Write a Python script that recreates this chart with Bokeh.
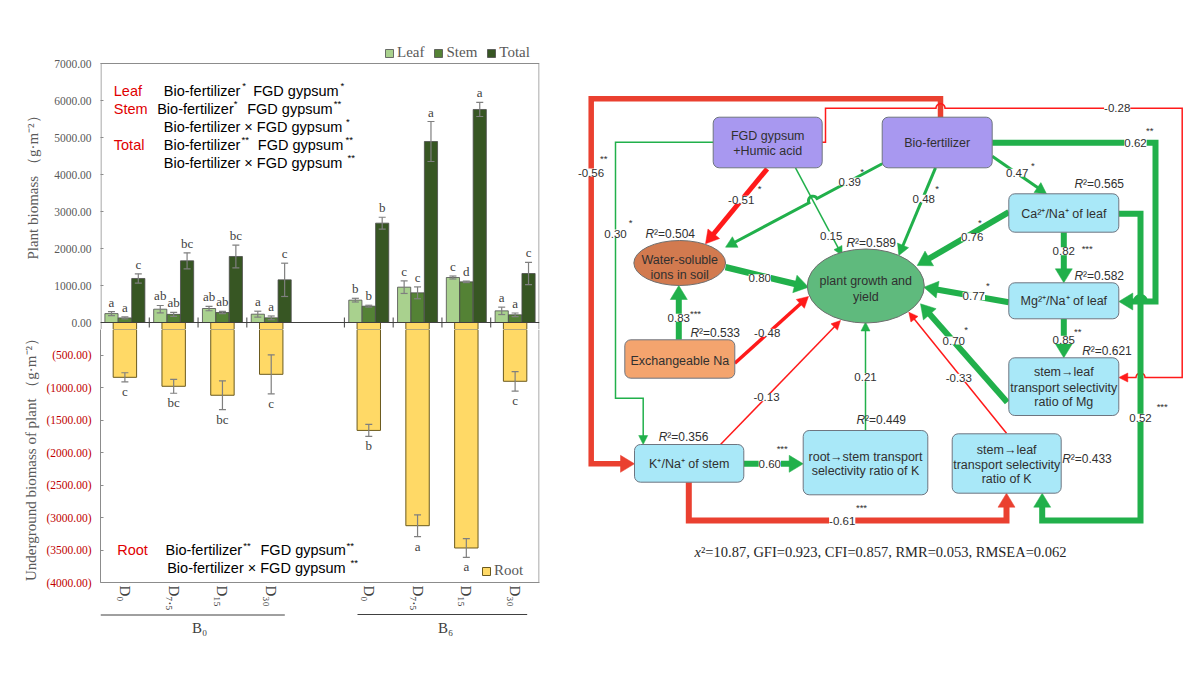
import math
from bokeh.plotting import figure
from bokeh.layouts import row, column
from bokeh.models import (Range1d, FixedTicker, NumeralTickFormatter, Legend, LegendItem,
                          Label, LabelSet, ColumnDataSource, Whisker, TeeHead, Span)
from bokeh.embed import file_html
from bokeh.resources import INLINE
from bokeh.core.properties import value

# ---------------- bar-chart data ----------------
groups = ["B₀", "B₆"]
doses = ["D₀", "D₇.₅", "D₁₅", "D₃₀"]
leaf = [240, 360, 378, 225, 604, 955, 1216, 315]
leaf_err = [55, 100, 60, 80, 50, 170, 40, 100]
stem = [125, 220, 270, 126, 441, 802, 1099, 207]
stem_err = [25, 55, 30, 50, 25, 160, 20, 50]
total = [1190, 1667, 1784, 1153, 2685, 4892, 5757, 1324]
total_err = [125, 215, 306, 450, 160, 540, 190, 300]
root = [843, 981, 1119, 797, 1660, 3126, 3469, 904]
root_err = [70, 107, 222, 300, 92, 168, 143, 150]
leaf_sig = ["a", "ab", "ab", "a", "b", "c", "c", "a"]
stem_sig = ["a", "ab", "ab", "a", "b", "c", "d", "a"]
total_sig = ["c", "bc", "bc", "c", "b", "a", "a", "c"]
root_sig = ["c", "bc", "bc", "c", "b", "a", "a", "c"]
upper_ticks = [0, 1000, 2000, 3000, 4000, 5000, 6000, 7000]
lower_ticks = [500, 1000, 1500, 2000, 2500, 3000, 3500, 4000]

# ---------------- path-diagram data ----------------
coef_labels = ["-0.56", "-0.28", "0.30", "-0.51", "0.15", "0.39", "0.48", "0.47", "0.62",
               "0.82", "0.76", "0.77", "0.85", "0.70", "-0.33", "0.52", "-0.61", "0.60",
               "-0.13", "0.21", "-0.48", "0.83", "0.80"]
coef_stars = ["**", "*", "*", "*", "*", "*", "**", "***", "*", "*", "**", "*", "***",
              "***", "***", "***"]
r2_values = ["0.504", "0.589", "0.565", "0.582", "0.621", "0.533", "0.356", "0.449", "0.433"]
fit_text = "²=10.87, GFI=0.923, CFI=0.857, RMR=0.053, RMSEA=0.062"

LEAF_C, STEM_C, TOTAL_C, ROOT_C = "#a9d18e", "#548235", "#375623", "#ffd966"
GRAY_T = "#595959"
FRAME_C = "#8c8c8c"

# ---------------- category layout ----------------
centers = [g * 5 + k + 0.5 for g in range(len(groups)) for k in range(len(doses))]
bounds = [g * 5 + k for g in range(len(groups)) for k in range(1 if g == 0 else 0, 4)]
OFF, BW = 0.275, 0.27

FL, FR, FT, FM, FB = 100, 539, 63, 322, 583
UPX = 7000.0 / (FM - FT)     # data units per pixel, upper
LPX = 4000.0 / (FB - FM)     # data units per pixel, lower
XPX = 9.0 / (FR - FL)
OVER = 7                      # px the upper frame reaches below zero
HEAD = 25                     # px the upper frame reaches above 7000 (legend room)

def tx(px):
    return (px - FL) * XPX
def ty_up(py):
    return (FM - py) * UPX
def ty_lo(py):
    return -(py - FM) * LPX

# ---------------- upper figure ----------------
top = figure(width=560, height=FM + OVER, x_range=Range1d(0, 9),
             y_range=Range1d(-OVER * UPX, 7000 + HEAD * UPX),
             x_axis_location=None, toolbar_location=None, output_backend="svg",
             min_border_left=FL, min_border_right=21, min_border_top=FT - HEAD,
             min_border_bottom=0)
top.grid.grid_line_color = None
top.outline_line_color = None

def series_src(vals, errs, off, sig):
    xs = [c + off for c in centers]
    return ColumnDataSource(dict(x=xs, v=vals, u=[a + b for a, b in zip(vals, errs)],
                                 l=[a - b for a, b in zip(vals, errs)], t=sig))

renders = []
for vals, errs, off, sig, col in [(leaf, leaf_err, -OFF, leaf_sig, LEAF_C),
                                  (stem, stem_err, 0.0, stem_sig, STEM_C),
                                  (total, total_err, OFF, total_sig, TOTAL_C)]:
    src = series_src(vals, errs, off, sig)
    r = top.vbar(x="x", top="v", width=BW, source=src, fill_color=col,
                 line_color="#4d4d4d", line_width=0.8)
    renders.append(r)
    top.add_layout(Whisker(source=src, base="x", upper="u", lower="l", line_color="#7f7f7f",
                           line_width=1.2, level="overlay",
                           upper_head=TeeHead(size=7, line_color="#7f7f7f", line_width=1.2),
                           lower_head=TeeHead(size=7, line_color="#7f7f7f", line_width=1.2)))
    top.text(x="x", y="u", text="t", source=src, text_font=value("Liberation Serif"),
             text_font_size="13px", text_color="#404040", text_align="center",
             text_baseline="bottom", y_offset=-2)

# tops of the root bars (just below the zero line)
top.vbar(x=centers, top=0, bottom=[-v for v in root], width=0.48, fill_color=ROOT_C,
         line_color="#6b5a1e", line_width=1)

# frame borders of the upper panel
ylo = -OVER * UPX - 10 * UPX
top.segment(x0=[0.5 * XPX, 9 - 0.5 * XPX, 0], y0=[ylo, ylo, 7000],
            x1=[0.5 * XPX, 9 - 0.5 * XPX, 9], y1=[7000, 7000, 7000],
            line_color=FRAME_C, line_width=1)
top.add_layout(Span(location=0, dimension="width", line_color="#404040", line_width=1.2))
top.segment(x0=bounds, y0=[-5 * UPX] * len(bounds), x1=bounds, y1=[5 * UPX] * len(bounds),
            line_color="#404040", line_width=1)

ya = top.yaxis[0]
ya.ticker = FixedTicker(ticks=upper_ticks)
ya.formatter = NumeralTickFormatter(format="0.00")
ya.major_label_text_font = "Liberation Serif"
ya.major_label_text_font_size = "11.5px"
ya.major_label_text_color = GRAY_T
ya.major_tick_out = 0
ya.major_tick_in = 3
ya.minor_tick_out = 0
ya.minor_tick_in = 0
ya.major_label_standoff = 9
ya.axis_line_color = None
ya.major_tick_line_color = FRAME_C
ya.axis_label = "Plant biomass （g·m⁻²）"
ya.axis_label_text_font = "Liberation Serif"
ya.axis_label_text_font_style = "normal"
ya.axis_label_text_font_size = "15px"
ya.axis_label_text_color = GRAY_T
ya.axis_label_standoff = 10

leg = Legend(items=[LegendItem(label="Leaf", renderers=[renders[0]]),
                    LegendItem(label="Stem", renderers=[renders[1]]),
                    LegendItem(label="Total", renderers=[renders[2]])],
             orientation="horizontal", location=(284, 268), padding=0, margin=0,
             spacing=9, label_standoff=3, glyph_width=10, glyph_height=10, label_height=16,
             label_text_font="Liberation Serif", label_text_font_size="15px",
             label_text_color=GRAY_T, background_fill_alpha=0, border_line_color=None)
top.add_layout(leg, "center")

def add_lbl(fig, text, px, py, conv, color="black", size="14.5px", font="Liberation Sans",
            align="left", baseline="middle"):
    fig.add_layout(Label(x=tx(px), y=conv(py), text=text, text_color=color,
                         text_font_size=size, text_font=font, text_align=align,
                         text_baseline=baseline))

RED_T = "#e00000"
STAR = "9.5px"
upper_notes = [
    ("Leaf", 113.3, 90, RED_T, "14.5px"), ("Bio-fertilizer", 163.3, 90, "black", "14.5px"),
    ("*", 241.7, 85, "black", STAR), ("FGD gypsum", 252.7, 90, "black", "14.5px"),
    ("*", 340.0, 85, "black", STAR),
    ("Stem", 113.3, 108, RED_T, "14.5px"), ("Bio-fertilizer", 156.7, 108, "black", "14.5px"),
    ("*", 233.3, 103, "black", STAR), ("FGD gypsum", 246.7, 108, "black", "14.5px"),
    ("**", 333.3, 103, "black", STAR),
    ("Bio-fertilizer × FGD gypsum", 163.3, 126, "black", "14.5px"),
    ("*", 345.5, 121, "black", STAR),
    ("Total", 113.3, 144, RED_T, "14.5px"), ("Bio-fertilizer", 163.3, 144, "black", "14.5px"),
    ("**", 241.0, 139, "black", STAR), ("FGD gypsum", 257.3, 144, "black", "14.5px"),
    ("**", 345.0, 139, "black", STAR),
    ("Bio-fertilizer × FGD gypsum", 163.3, 162, "black", "14.5px"),
    ("**", 347.0, 157, "black", STAR),
]
for t, px, py, c, s in upper_notes:
    add_lbl(top, t, px, py, ty_up, color=c, size=s)

# ---------------- lower figure ----------------
LOW_BOTTOM = 30
bot = figure(width=560, height=(FB - FM - OVER) + LOW_BOTTOM, x_range=top.x_range,
             y_range=Range1d(-4000, -OVER * LPX),
             toolbar_location=None, output_backend="svg",
             min_border_left=FL, min_border_right=21, min_border_top=0,
             min_border_bottom=LOW_BOTTOM)
bot.grid.grid_line_color = None
bot.outline_line_color = None
bot.add_layout(Span(location=9 - 0.5 * XPX, dimension="height", line_color=FRAME_C, line_width=1))

rsrc = ColumnDataSource(dict(x=centers, v=[-a for a in root],
                             u=[-(a - b) for a, b in zip(root, root_err)],
                             l=[-(a + b) for a, b in zip(root, root_err)], t=root_sig))
rr = bot.vbar(x="x", top=0, bottom="v", width=0.48, source=rsrc, fill_color=ROOT_C,
              line_color="#6b5a1e", line_width=1)
bot.add_layout(Whisker(source=rsrc, base="x", upper="u", lower="l", line_color="#7f7f7f",
                       line_width=1.2, level="overlay",
                       upper_head=TeeHead(size=7, line_color="#7f7f7f", line_width=1.2),
                       lower_head=TeeHead(size=7, line_color="#7f7f7f", line_width=1.2)))
bot.text(x="x", y="l", text="t", source=rsrc, text_font=value("Liberation Serif"),
         text_font_size="13px", text_color="#404040", text_align="center",
         text_baseline="top", y_offset=2)

yb = bot.yaxis[0]
yb.ticker = FixedTicker(ticks=[-v for v in lower_ticks])
yb.major_label_overrides = {-v: "({:.2f})".format(v) for v in lower_ticks}
yb.major_label_text_font = "Liberation Serif"
yb.major_label_text_font_size = "11.5px"
yb.major_label_text_color = "#c00000"
yb.major_tick_out = 0
yb.major_tick_in = 3
yb.minor_tick_out = 0
yb.minor_tick_in = 0
yb.major_label_standoff = 9
yb.axis_line_color = FRAME_C
yb.major_tick_line_color = FRAME_C
yb.axis_label = "Underground biomass of plant （g·m⁻²）"
yb.axis_label_text_font = "Liberation Serif"
yb.axis_label_text_font_style = "normal"
yb.axis_label_text_font_size = "15px"
yb.axis_label_text_color = GRAY_T
yb.axis_label_standoff = 4

xb = bot.xaxis[0]
xb.ticker = FixedTicker(ticks=centers)
xb.major_label_overrides = {c: doses[i % len(doses)] for i, c in enumerate(centers)}
xb.major_label_orientation = "vertical"
xb.major_label_text_font = "Liberation Serif"
xb.major_label_text_font_size = "15px"
xb.major_label_text_color = "#404040"
xb.major_tick_out = 0
xb.major_tick_in = 0
xb.minor_tick_out = 0
xb.minor_tick_in = 0
xb.major_label_standoff = 3
xb.axis_line_color = FRAME_C

leg2 = Legend(items=[LegendItem(label="Root", renderers=[rr])], location=(381, 3),
              padding=0, margin=0, label_standoff=3, glyph_width=10, glyph_height=10,
              label_height=16, label_text_font="Liberation Serif", label_text_font_size="15px",
              label_text_color=GRAY_T, background_fill_alpha=0, border_line_color=None)
bot.add_layout(leg2, "center")

lower_notes = [
    ("Root", 116.7, 550.7, RED_T, "14.5px"), ("Bio-fertilizer", 165.0, 550.7, "black", "14.5px"),
    ("**", 242.7, 545.7, "black", STAR), ("FGD gypsum", 260.0, 550.7, "black", "14.5px"),
    ("**", 346.0, 545.7, "black", STAR),
    ("Bio-fertilizer × FGD gypsum", 166.7, 568.3, "black", "14.5px"),
    ("**", 350.0, 563.3, "black", STAR),
]
for t, px, py, c, s in lower_notes:
    add_lbl(bot, t, px, py, ty_lo, color=c, size=s)

# ---------------- footer with the group lines ----------------
FOOT_TOP = FB + LOW_BOTTOM
foot = figure(width=560, height=675 - FOOT_TOP, x_range=top.x_range,
              y_range=Range1d(675, FOOT_TOP), x_axis_location=None, y_axis_location=None,
              toolbar_location=None, output_backend="svg", min_border_left=FL,
              min_border_right=21, min_border_top=0, min_border_bottom=0,
              outline_line_color=None)
foot.grid.grid_line_color = None
gl = [(100, 284.3, 614.5, 199), (357, 526.7, 614, 445)]
foot.segment(x0=[tx(a[0]) for a in gl], y0=[a[2] for a in gl], x1=[tx(a[1]) for a in gl],
             y1=[a[2] for a in gl], line_color="#404040", line_width=1)
foot.text(x=[tx(a[3]) for a in gl], y=[627 for a in gl], text=groups,
          text_font=value("Liberation Serif"), text_font_size="15px", text_color="#404040",
          text_align="center", text_baseline="middle")

# ---------------- path diagram ----------------
d = figure(width=640, height=675, x_range=Range1d(560, 1200), y_range=Range1d(675, 0),
           x_axis_location=None, y_axis_location=None, toolbar_location=None,
           output_backend="svg", min_border=0, outline_line_color=None)
d.grid.grid_line_color = None

GREEN = "#21b04b"
RED = "#ff1a1a"
RED2 = "#ea4030"
PURPLE = "#a898f0"
CYAN = "#a9e8f8"
ORANGE = "#f4a46e"

def seg_intersect(a, b, c, e):
    x1, y1 = a; x2, y2 = b; x3, y3 = c; x4, y4 = e
    den = (x1 - x2) * (y3 - y4) - (y1 - y2) * (x3 - x4)
    t = ((x1 - x3) * (y3 - y4) - (y1 - y3) * (x3 - x4)) / den
    return (x1 + t * (x2 - x1), y1 + t * (y2 - y1))

def expand(path, r=4.5):
    out = []
    for i, pt in enumerate(path):
        if pt[0] == "hop":
            prev = next(path[j] for j in range(i - 1, -1, -1) if path[j][0] != "hop")
            nxt = next(path[j] for j in range(i + 1, len(path)) if path[j][0] != "hop")
            dx, dy = nxt[0] - prev[0], nxt[1] - prev[1]
            L = math.hypot(dx, dy)
            ux, uy = dx / L, dy / L
            nx, ny = uy, -ux
            if ny > 0 or (abs(ny) < 1e-9 and nx < 0):
                nx, ny = -nx, -ny
            cx, cy = pt[1], pt[2]
            for k in range(13):
                th = math.pi * k / 12
                out.append((cx - r * math.cos(th) * ux + r * math.sin(th) * nx,
                            cy - r * math.cos(th) * uy + r * math.sin(th) * ny))
        else:
            out.append(pt)
    return out

def draw_arrow(path, color, w, hl, hw):
    pts = expand(path)
    tip, prev = pts[-1], pts[-2]
    dx, dy = tip[0] - prev[0], tip[1] - prev[1]
    L = math.hypot(dx, dy)
    ux, uy = dx / L, dy / L
    bx, by = tip[0] - ux * hl, tip[1] - uy * hl
    lp = pts[:-1] + [(bx + ux * 1.0, by + uy * 1.0)]
    d.line([p[0] for p in lp], [p[1] for p in lp], line_width=w, line_color=color,
           line_join="miter", line_cap="butt")
    nx, ny = -uy, ux
    d.patch([tip[0], bx + nx * hw / 2, bx - nx * hw / 2],
            [tip[1], by + ny * hw / 2, by - ny * hw / 2],
            fill_color=color, line_color=color, line_width=0.5)

hop39 = seg_intersect((881.7, 163.3), (725, 246.7), (795, 167.3), (841.7, 255))
arrows = [
    ([(940, 116.7), (940, 98.3), (590.7, 98.3), (590.7, 463.3), (634, 463.3)], RED2, 5.5, 14, 17),
    ([(821.7, 141.7), (825, 141.7), (825, 107.7), ("hop", 940, 107.7), (1181.7, 107.7),
      (1181.7, 377), ("hop", 1140, 377), (1118.3, 377)], RED, 1.5, 9, 9),
    ([(712.7, 141.7), (615, 141.7), (615, 397.7), (642.7, 397.7), (642.7, 444)], GREEN, 1.5, 9, 9),
    ([(766.7, 168.3), (705, 243.3)], RED, 5, 13, 15),
    ([(795, 167.3), (841.7, 255)], GREEN, 1.5, 9, 9),
    ([(881.7, 163.3), ("hop", hop39[0], hop39[1]), (725, 246.7)], GREEN, 3, 11, 12),
    ([(935, 167.3), (898.3, 255)], GREEN, 3, 11, 12),
    ([(991.7, 155.7), (1046, 193.3)], GREEN, 3, 11, 12),
    ([(991.7, 142.3), (1155, 142.3), (1155, 301), ("hop", 1140, 301), (1118.3, 301)], GREEN, 6, 14, 17),
    ([(1063.3, 231.7), (1063.3, 282.3)], GREEN, 6, 14, 17),
    ([(1008.3, 211.7), (916.7, 265)], GREEN, 6, 14, 17),
    ([(1008.3, 301.7), (923.3, 286.7)], GREEN, 6, 14, 17),
    ([(1063.3, 318.3), (1063.3, 357.3)], GREEN, 6, 14, 17),
    ([(1006.7, 401.7), (920, 303.3)], GREEN, 6, 14, 17),
    ([(1006, 432.7), (908.3, 311.7)], RED, 1.5, 9, 9),
    ([(1118.3, 213.3), (1140, 213.3), (1140, 520), (1041.7, 520), (1041.7, 492.7)], GREEN, 6, 14, 17),
    ([(688.3, 481.7), (688.3, 520), (1006, 520), (1006, 492.7)], RED2, 6, 14, 17),
    ([(743.3, 463.3), (802.7, 463.3)], GREEN, 6, 14, 17),
    ([(720, 444), (840, 320)], RED, 1.5, 9, 9),
    ([(865, 430), (865, 321.5)], GREEN, 1.5, 9, 9),
    ([(734.3, 362.7), (808, 296)], RED, 3.5, 11, 12),
    ([(678.3, 339.3), (678.3, 285)], GREEN, 6, 14, 17),
    ([(725, 266.7), (808, 286.7)], GREEN, 6.5, 14, 18),
]
for path, col, w, hl, hw in arrows:
    draw_arrow(path, col, w, hl, hw)

boxes = [
    (712.7, 116.7, 821.7, 167.3, PURPLE), (881.7, 116.7, 991.7, 167.3, PURPLE),
    (1008.3, 193.3, 1118.3, 231.7, CYAN), (1008.3, 282.3, 1118.3, 318.3, CYAN),
    (1008.3, 357.3, 1118.3, 415.0, CYAN), (951.7, 433.3, 1060.7, 492.7, CYAN),
    (802.7, 430.0, 927.3, 494.3, CYAN), (634.0, 444.0, 743.3, 481.7, CYAN),
    (624.3, 339.3, 734.3, 377.7, ORANGE),
]
bsrc = ColumnDataSource(dict(l=[b[0] for b in boxes], t=[b[1] for b in boxes],
                             r=[b[2] for b in boxes], b=[b[3] for b in boxes],
                             c=[b[4] for b in boxes]))
try:
    d.quad(left="l", right="r", top="t", bottom="b", fill_color="c", line_color="#6e7580",
           line_width=1, source=bsrc, border_radius=6)
except Exception:
    d.quad(left="l", right="r", top="t", bottom="b", fill_color="c", line_color="#6e7580",
           line_width=1, source=bsrc)
d.ellipse(x=[679.2], y=[262.5], width=[91.7], height=[45], fill_color="#d27a4f",
          line_color="#6e6e6e", line_width=1)
d.ellipse(x=[865.3], y=[285.5], width=[117], height=[74], fill_color="#5fba7d",
          line_color="#6e6e6e", line_width=1)

node_text = [
    ("FGD gypsum", 767.2, 135), ("+Humic acid", 767.2, 150.5),
    ("Bio-fertilizer", 936.7, 142.3),
    ("Ca²⁺/Na⁺ of leaf", 1063.3, 213.3), ("Mg²⁺/Na⁺ of leaf", 1063.3, 300.3),
    ("stem→leaf", 1063.3, 371.7), ("transport selectivity", 1063.3, 387), ("ratio of Mg", 1063.3, 401.7),
    ("stem→leaf", 1006.2, 449), ("transport selectivity", 1006.2, 464), ("ratio of K", 1006.2, 478.3),
    ("root→stem transport", 865, 456), ("selectivity ratio of K", 865, 470.7),
    ("K⁺/Na⁺ of stem", 688.7, 463.3), ("Exchangeable Na", 679.3, 360),
    ("Water-soluble", 679.2, 259), ("ions in soil", 679.2, 274),
    ("plant growth and", 865.3, 280.7), ("yield", 865.3, 296.7),
]
d.text(x=[n[1] for n in node_text], y=[n[2] for n in node_text], text=[n[0] for n in node_text],
       text_font=value("Liberation Sans"), text_font_size="12.5px", text_color="#303030",
       text_align="center", text_baseline="middle")

coef_pos = [(590.5, 172), (1116.7, 107.7), (615, 233), (740.7, 199.3), (830.7, 235),
            (849.3, 181), (923.3, 198.3), (1016.7, 172.3), (1135, 142.3), (1063.3, 250.7),
            (971.7, 236.7), (973.3, 295.7), (1063.3, 339.3), (953.3, 340), (958.3, 377.3),
            (1140, 417.3), (841.7, 520), (769.3, 463.3), (766, 396.7), (865, 376.7),
            (766.7, 332.3), (678.3, 317.3), (759.3, 277.7)]
csrc = ColumnDataSource(dict(x=[p[0] for p in coef_pos], y=[p[1] for p in coef_pos],
                             t=coef_labels))
d.add_layout(LabelSet(x="x", y="y", text="t", source=csrc, text_font=value("Liberation Sans"),
                      text_font_size="11.5px", text_color="#303030", text_align="center",
                      text_baseline="middle", background_fill_color="white"))

star_pos = [(603.3, 158.3), (630, 221.7), (759, 188.3), (861.7, 171), (936.7, 188.3),
            (1032.3, 165), (1149.3, 130), (1086.7, 247.7), (979.3, 222), (987.3, 285),
            (1077.3, 330.7), (965.7, 329.3), (1161.7, 406), (861, 507.3), (781.7, 447.7),
            (695, 313.3)]
d.text(x=[p[0] for p in star_pos], y=[p[1] for p in star_pos], text=coef_stars,
       text_font=value("Liberation Sans"), text_font_size="9.5px", text_color="#303030",
       text_align="center", text_baseline="middle")

r2_pos = [(645, 233.3), (846, 242.7), (1074, 183.3), (1074, 275), (1081.7, 350),
          (690, 332.3), (658.3, 436.7), (856, 419.3), (1061.7, 458.3)]
d.text(x=[p[0] for p in r2_pos], y=[p[1] for p in r2_pos], text=["R"] * len(r2_pos),
       text_font=value("Liberation Sans"), text_font_style="italic", text_font_size="12px",
       text_color="#303030", text_align="left", text_baseline="middle")
d.text(x=[p[0] + 8.5 for p in r2_pos], y=[p[1] for p in r2_pos],
       text=["²=" + v for v in r2_values], text_font=value("Liberation Sans"),
       text_font_size="12px", text_color="#303030", text_align="left", text_baseline="middle")

d.text(x=[694], y=[551.7], text=["x"], text_font=value("Liberation Serif"),
       text_font_style="italic", text_font_size="14.5px", text_color="#262626",
       text_align="left", text_baseline="middle")
d.text(x=[700.5], y=[551.7], text=[fit_text], text_font=value("Liberation Serif"),
       text_font_size="14.5px", text_color="#262626", text_align="left",
       text_baseline="middle")

layout = row(column(top, bot, foot), d)
open("out.html", "w").write(file_html(layout, INLINE))
